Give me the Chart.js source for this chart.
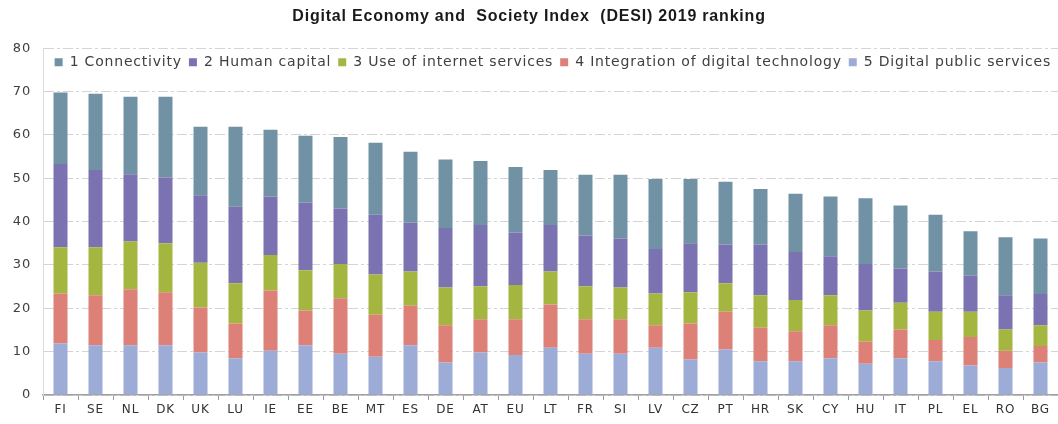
<!DOCTYPE html>
<html>
<head>
<meta charset="utf-8">
<script src="https://cdn.jsdelivr.net/npm/chart.js@4/dist/chart.umd.min.js"></script>
<style>
  html, body { margin: 0; padding: 0; background: #fff; }
  #wrap { width: 1058px; height: 424px; }
</style>
</head>
<body>
<div id="wrap"><canvas id="desi"></canvas></div>
<script>
const countries = ['FI','SE','NL','DK','UK','LU','IE','EE','BE','MT','ES','DE','AT','EU','LT','FR','SI','LV','CZ','PT','HR','SK','CY','HU','IT','PL','EL','RO','BG'];

// score per dimension
const connectivity = [16.5,17.6,17.9,18.6,15.8,18.5,15.4,15.4,16.5,16.6,16.3,15.8,14.8,15.1,12.7,14.0,14.7,16.1,14.8,14.5,12.8,13.4,13.8,15.2,14.5,13.1,10.3,13.4,12.8];
const humanCapital = [19.2,17.8,15.5,15.2,15.6,17.6,13.5,15.6,12.8,13.8,11.3,13.7,14.1,12.1,10.7,11.7,11.3,10.3,11.3,8.9,11.7,11.1,9.0,10.7,7.9,9.3,8.3,7.9,7.2];
const internetUse = [10.7,11.1,11.0,11.3,10.3,9.3,8.2,9.3,7.9,9.3,7.9,8.7,7.6,7.9,7.6,7.6,7.3,7.3,7.2,6.6,7.5,7.2,6.9,7.2,6.2,6.5,5.8,4.9,4.8];
const integration = [11.5,11.5,12.9,12.2,10.4,8.0,13.9,8.0,12.8,9.7,9.1,8.6,7.7,8.3,10.0,8.0,8.0,5.2,8.3,8.7,7.7,6.9,7.6,5.1,6.6,4.9,6.6,4.0,3.8];
const publicServices = [11.9,11.5,11.5,11.5,9.8,8.5,10.2,11.5,9.5,8.8,11.5,7.5,9.8,9.2,10.9,9.5,9.5,10.9,8.2,10.5,7.8,7.8,8.5,7.2,8.5,7.8,6.8,6.2,7.5];

const yTicks = [0,10,20,30,40,50,60,70,80];

const bar = (label, data, color) => ({
  label: label,
  data: data,
  backgroundColor: color,
  borderWidth: 0,
  barPercentage: 0.4,
  categoryPercentage: 1
});

// the source picture is a bit stretched sideways, so space the letters out
const spacing = {
  id: 'spacing',
  beforeLayout(chart) { chart.ctx.letterSpacing = '0.8px'; },
  beforeDraw(chart) { chart.ctx.letterSpacing = '0.8px'; }
};

// legend is drawn inside the plot: take no room in the layout, then give it its box back
const legendInside = {
  id: 'legendInside',
  beforeLayout(chart) {
    const lg = chart.legend;
    if (lg && !lg._flat) {
      const fit = lg.fit;
      lg.fit = function () { fit.call(this); this._realHeight = this.height; this.height = 0; };
      lg._flat = true;
    }
  },
  afterLayout(chart) {
    const lg = chart.legend;
    lg.top = chart.chartArea.top;
    lg.height = lg._realHeight;
    lg.bottom = lg.top + lg.height;
  }
};

new Chart(document.getElementById('desi'), {
  type: 'bar',
  data: {
    labels: countries,
    // bottom of the stack first, legend is reversed
    datasets: [
      bar('5 Digital public services', publicServices, '#9dabd7'),
      bar('4 Integration of digital technology', integration, '#dd8077'),
      bar('3 Use of internet services', internetUse, '#a5b640'),
      bar('2 Human capital', humanCapital, '#7b72b1'),
      bar('1 Connectivity', connectivity, '#7191a4')
    ]
  },
  plugins: [spacing, legendInside],
  options: {
    responsive: true,
    maintainAspectRatio: false,
    animation: false,
    layout: { padding: 0 },
    plugins: {
      title: {
        display: true,
        text: 'Digital Economy and  Society Index  (DESI) 2019 ranking',
        color: '#1a1a1a',
        font: { family: 'Liberation Sans', size: 16, weight: 'bold' },
        padding: { top: 7, bottom: 22 }
      },
      legend: {
        position: 'top',
        align: 'end',
        reverse: true,
        labels: {
          boxWidth: 8,
          boxHeight: 8,
          padding: 7,
          color: '#404040',
          font: { family: 'DejaVu Sans', size: 14 }
        }
      },
      tooltip: { enabled: false }
    },
    scales: {
      x: {
        stacked: true,
        afterFit: s => { s.height = 29; },
        grid: {
          offset: true,
          drawOnChartArea: false,
          drawTicks: true,
          tickLength: 5,
          tickColor: '#999999'
        },
        border: { color: '#a0a0a0', width: 1.5 },
        ticks: {
          color: '#333333',
          padding: 3,
          font: { family: 'DejaVu Sans', size: 12 }
        }
      },
      y: {
        stacked: true,
        min: 0,
        max: 80,
        afterFit: s => { s.width = 43; },
        afterBuildTicks: s => { s.ticks = yTicks.map(v => ({ value: v })); },
        grid: {
          color: '#d4d4d4',
          drawTicks: false
        },
        border: { color: '#d9d9d9', width: 1, dash: [10, 3, 3, 3] },
        ticks: {
          color: '#404040',
          padding: 12,
          font: { family: 'DejaVu Sans', size: 13 }
        }
      }
    }
  }
});
</script>
</body>
</html>
